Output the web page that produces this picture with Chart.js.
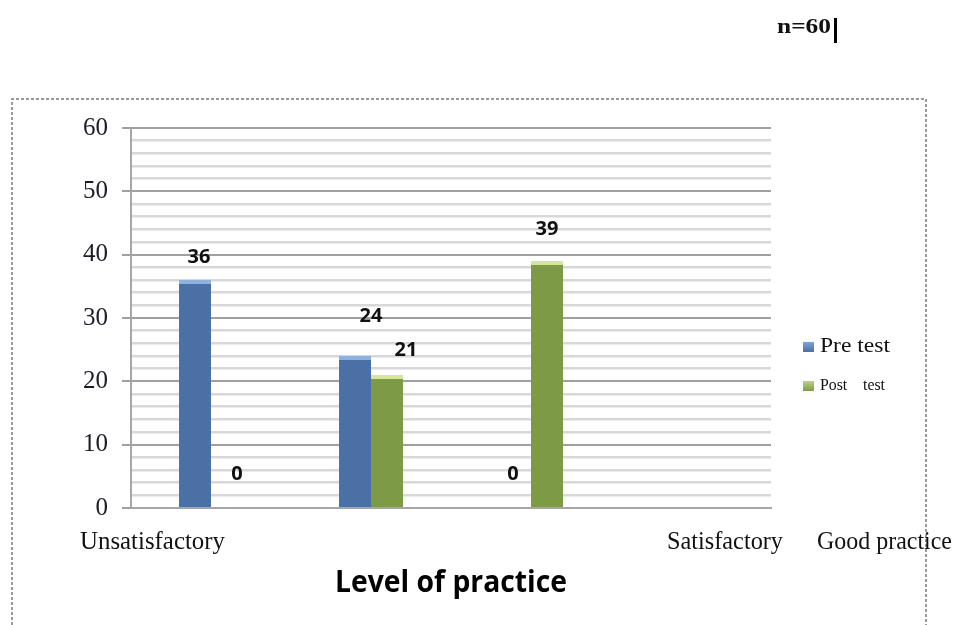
<!DOCTYPE html>
<html>
<head>
<meta charset="utf-8">
<title>Level of practice</title>
<script src="https://cdn.jsdelivr.net/npm/chart.js@4.4.0/dist/chart.umd.min.js"></script>
<style>
  html, body { margin: 0; padding: 0; background: #fff; }
  #wrap { width: 955px; height: 625px; }
</style>
</head>
<body>
<div id="wrap"><canvas id="practiceChart" width="955" height="625"></canvas></div>
<script>
// chart data
const categories = ['Unsatisfactory', 'Satisfactory', 'Good practice', ''];
const seriesNames = ['Pre test', 'Post    test'];
const preTest = [36, 24, 0, null];
const postTest = [0, 21, 39, null];
const yTickLabels = [0, 10, 20, 30, 40, 50, 60];
const sampleNote = 'n=60';
const axisTitle = 'Level of practice';

// where the loose text boxes sit (left edge, width)
const catLabelPos = [[80, 145], [667, 116], [817, 135]];
// shifts of the value labels from the bar tops
const labelShift = [
    [[4, -23], [16, -40], [-2, -34]],
    [[10, -34], [19, -25], [0, -32]]
];

const blue = '#4a70a6';
const green = '#7d9b47';

function fitText(ctx, text, x, y, w, font, color, sy) {
    ctx.save();
    ctx.font = font;
    ctx.fillStyle = color;
    ctx.textAlign = 'left';
    ctx.textBaseline = 'middle';
    const m = ctx.measureText(text).width;
    ctx.translate(x, y);
    ctx.scale(w / m, sy || 1);
    ctx.fillText(text, 0, 0);
    ctx.restore();
}

const valueLabels = {
    id: 'valueLabels',
    afterDatasetsDraw(chart) {
        const ctx = chart.ctx;
        ctx.save();
        ctx.font = 'bold 20px "Open Sans"';
        ctx.fillStyle = '#111';
        ctx.textAlign = 'center';
        ctx.textBaseline = 'middle';
        chart.data.datasets.forEach((ds, di) => {
            const meta = chart.getDatasetMeta(di);
            meta.data.forEach((bar, i) => {
                const v = ds.data[i];
                if (v === null || v === undefined) return;
                const s = labelShift[di][i];
                ctx.fillText(String(v), bar.x + s[0], bar.y + s[1]);
            });
        });
        ctx.restore();
    }
};

const extras = {
    id: 'extras',
    afterDraw(chart) {
        const ctx = chart.ctx;
        // dashed frame
        ctx.save();
        ctx.strokeStyle = '#7a7a7a';
        ctx.lineWidth = 1.5;
        ctx.setLineDash([3, 2]);
        ctx.beginPath();
        ctx.moveTo(12, 625);
        ctx.lineTo(12, 99);
        ctx.lineTo(926, 99);
        ctx.lineTo(926, 625);
        ctx.stroke();
        ctx.restore();

        // sample size + caret
        fitText(ctx, sampleNote, 777, 28, 54, 'bold 20px "Liberation Serif"', '#111');
        ctx.fillStyle = '#000';
        ctx.fillRect(834, 18, 3, 25);

        // category labels
        catLabelPos.forEach((p, i) => {
            fitText(ctx, categories[i], p[0], 542, p[1], '25px "Liberation Serif"', '#111', 1.05);
        });

        // axis title
        fitText(ctx, axisTitle, 335, 583, 232, 'bold 30px "Open Sans"', '#000');

        // legend
        const cols = [['#7fa4d6', blue], ['#bcd384', green]];
        const ys = [347, 386];
        const fonts = ['20px "Liberation Serif"', '17px "Liberation Serif"'];
        const widths = [70, 65];
        chart.data.datasets.forEach((ds, i) => {
            const g = ctx.createLinearGradient(0, ys[i] - 5, 0, ys[i] + 5);
            g.addColorStop(0, cols[i][0]);
            g.addColorStop(1, cols[i][1]);
            ctx.fillStyle = g;
            ctx.fillRect(803, ys[i] - 5, 11, 10);
            fitText(ctx, ds.label, 820, ys[i], widths[i], fonts[i], '#111');
        });
    }
};

new Chart(document.getElementById('practiceChart'), {
    type: 'bar',
    data: {
        labels: categories,
        datasets: [
            {
                label: seriesNames[0],
                data: preTest,
                backgroundColor: blue,
                borderColor: '#8db2e0',
                borderWidth: c => (c.raw ? { top: 4, left: 0, right: 0, bottom: 0 } : 0),
                borderSkipped: false
            },
            {
                label: seriesNames[1],
                data: postTest,
                backgroundColor: green,
                borderColor: '#d3e69a',
                borderWidth: c => (c.raw ? { top: 4, left: 0, right: 0, bottom: 0 } : 0),
                borderSkipped: false
            }
        ]
    },
    options: {
        responsive: false,
        animation: false,
        layout: { padding: { left: 0, top: 128, right: 184, bottom: 0 } },
        categoryPercentage: 0.4,
        barPercentage: 1,
        plugins: {
            legend: { display: false },
            tooltip: { enabled: false }
        },
        scales: {
            x: {
                afterFit: s => { s.height = 117; },
                ticks: { display: false },
                grid: { display: false },
                border: { display: true, color: '#a6a6a6', width: 2 }
            },
            y: {
                min: 0,
                max: 60,
                afterFit: s => { s.width = 131; },
                ticks: {
                    stepSize: 2,
                    autoSkip: false,
                    padding: 14,
                    color: '#1c1c28',
                    font: { family: 'Liberation Serif', size: 25 },
                    callback: v => (yTickLabels.includes(v) ? v : '')
                },
                grid: {
                    lineWidth: c => (c.tick.value % 10 === 0 ? 2 : 2.5),
                    tickLength: 9,
                    color: c => (c.tick.value % 10 === 0 ? '#a0a0a0' : '#d8d8d8'),
                    tickColor: c => (c.tick.value % 10 === 0 ? '#a0a0a0' : 'rgba(0,0,0,0)')
                },
                border: { display: true, color: '#a6a6a6', width: 2 }
            }
        }
    },
    plugins: [valueLabels, extras]
});
</script>
</body>
</html>
